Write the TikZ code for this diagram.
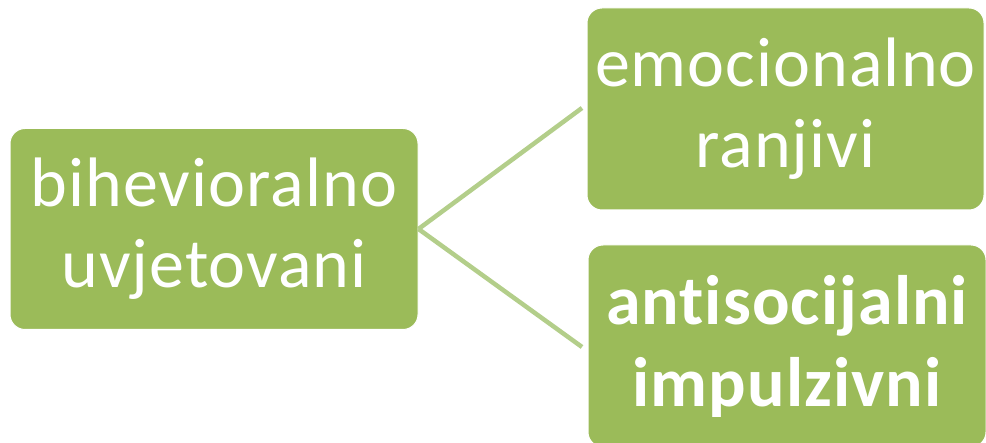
\documentclass[tikz,border=0pt]{standalone}
\usepackage{fontspec}
\setmainfont[LetterSpace=1.5,Ligatures=NoCommon,RawFeature={-liga;-clig;-dlig}]{Carlito}
\definecolor{boxgreen}{HTML}{9BBB59}
\definecolor{linegreen}{HTML}{B3CE8A}
\begin{document}
\begin{tikzpicture}[x=1pt,y=-1pt,
  gbox/.style={fill=boxgreen,draw=white,line width=1pt,rounded corners=15pt,
    text=white,align=center,inner sep=0pt,
    font=\fontsize{70}{81}\selectfont},
  conn/.style={draw=linegreen,line width=4.5pt}]
\useasboundingbox (0,0) rectangle (986,443);
\node[gbox,minimum width=408pt,minimum height=201pt] (a) at (214,229) {bihevioralno\\uvjetovani};
\node[gbox,minimum width=397pt,minimum height=202pt] (b) at (785.5,109) {emocionalno\\ranjivi};
\node[gbox,minimum width=398pt,minimum height=202pt,font=\fontsize{70}{82}\selectfont\bfseries] (c) at (787,346) {antisocijalni\\impulzivni};
\coordinate (e1) at (582,108);
\coordinate (e2) at (582,347);
\draw[conn] (a.east) -- (e1);
\draw[conn] (a.east) -- (e2);
\end{tikzpicture}
\end{document}
